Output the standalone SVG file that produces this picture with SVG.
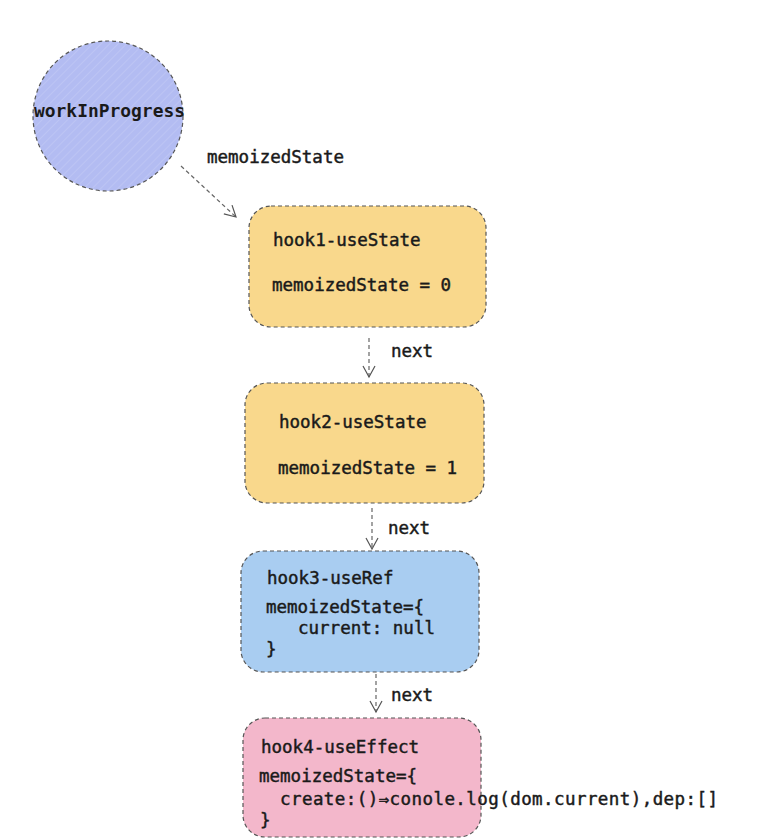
<svg xmlns="http://www.w3.org/2000/svg" width="774" height="839" viewBox="0 0 774 839">
<defs>
<marker id="arr" markerWidth="14" markerHeight="14" refX="12" refY="7" orient="auto" markerUnits="userSpaceOnUse">
<path d="M1,1 L12,7 L1,13" fill="none" stroke="#555" stroke-width="1.2"/>
</marker>
<pattern id="hatch" width="6" height="6" patternUnits="userSpaceOnUse" patternTransform="rotate(45)">
<line x1="0" y1="0" x2="0" y2="6" stroke="#ffffff" stroke-opacity="0.25" stroke-width="1"/>
</pattern>
</defs>
<style>
.shape{stroke:#555;stroke-width:1.2;stroke-dasharray:4 3}
.t{font-family:"DejaVu Sans Mono","Liberation Mono",monospace;font-size:17.5px;fill:#1a1a1a;stroke:#1a1a1a;stroke-width:0.45}
.b{font-weight:bold;stroke-width:0}
.edge{stroke:#666;stroke-width:1.2;stroke-dasharray:4 3;fill:none}
</style>
<rect width="774" height="839" fill="#ffffff"/>
<g id="workInProgress">
<circle cx="108" cy="116" r="75" fill="#b3bcf2" class="shape"/>
<circle cx="108" cy="116" r="75" fill="url(#hatch)"/>
<text x="34" y="117" class="t b" textLength="151" lengthAdjust="spacingAndGlyphs">workInProgress</text>
</g>
<g id="hook1">
<rect x="249" y="206" width="237" height="121" rx="22" fill="#f9d88c" class="shape"/>
<text x="273" y="246" class="t">hook1-useState</text>
<text x="272" y="291" class="t">memoizedState = 0</text>
</g>
<g id="hook2">
<rect x="245" y="383" width="239" height="120" rx="22" fill="#f9d88c" class="shape"/>
<text x="279" y="428" class="t">hook2-useState</text>
<text x="278" y="474" class="t">memoizedState = 1</text>
</g>
<g id="hook3">
<rect x="241" y="551" width="238" height="121" rx="22" fill="#a9cdf1" class="shape"/>
<text x="267" y="584" class="t">hook3-useRef</text>
<text x="266" y="613" class="t">memoizedState={</text>
<text x="298" y="634" class="t">current: null</text>
<text x="266" y="655" class="t">}</text>
</g>
<g id="hook4">
<rect x="243" y="718" width="238" height="119" rx="22" fill="#f3b7cb" class="shape"/>
<text x="261" y="753" class="t">hook4-useEffect</text>
<text x="259" y="782" class="t">memoizedState={</text>
<text x="280" y="805" class="t" textLength="438" lengthAdjust="spacing">create:()⇒conole.log(dom.current),dep:[]</text>
<text x="260" y="826" class="t">}</text>
</g>
<g id="connectors">
<line x1="181" y1="166" x2="236" y2="217" class="edge" marker-end="url(#arr)"/>
<text x="207" y="163" class="t">memoizedState</text>
<line x1="369" y1="338" x2="369" y2="377" class="edge" marker-end="url(#arr)"/>
<text x="391" y="357" class="t">next</text>
<line x1="372" y1="508" x2="372" y2="549" class="edge" marker-end="url(#arr)"/>
<text x="388" y="534" class="t">next</text>
<line x1="376" y1="674" x2="376" y2="712" class="edge" marker-end="url(#arr)"/>
<text x="391" y="701" class="t">next</text>
</g>
</svg>
